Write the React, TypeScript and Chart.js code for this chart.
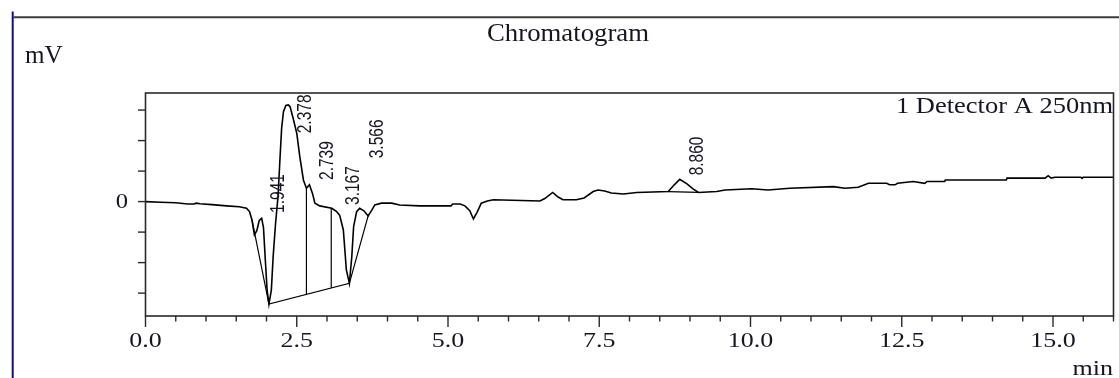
import React, { useEffect, useRef } from "react";
import { Chart, registerables } from "chart.js";

Chart.register(...registerables);

// ---- Data ----
const times = [
  0.0, 0.25, 0.5, 0.7, 0.8, 0.84, 0.9, 1.1, 1.34, 1.55, 1.67, 1.72, 1.76, 1.8, 1.84, 1.88, 1.92, 1.95,
  1.98, 2.01, 2.04, 2.08, 2.11, 2.15, 2.19, 2.22, 2.25, 2.28, 2.32, 2.36, 2.39, 2.44, 2.5, 2.55, 2.61,
  2.66, 2.71, 2.76, 2.8, 2.88, 3.08, 3.16, 3.21, 3.27, 3.32, 3.37, 3.41, 3.44, 3.49, 3.54, 3.61, 3.68,
  3.74, 3.79, 3.9, 4.07, 4.2, 4.53, 5.05, 5.08, 5.2, 5.28, 5.36, 5.42, 5.48, 5.55, 5.65, 5.75, 6.52,
  6.6, 6.73, 6.82, 6.9, 7.12, 7.25, 7.4, 7.48, 7.59, 7.7, 7.9, 8.12, 8.64, 8.74, 8.83, 8.95, 9.05,
  9.14, 9.44, 9.58, 10.02, 10.29, 10.65, 11.37, 11.56, 11.78, 11.95, 12.25, 12.3, 12.39, 12.43, 12.69,
  12.88, 12.92, 13.21, 13.22, 14.23, 14.24, 14.87, 14.92, 14.97, 15.03, 15.46, 15.48, 15.5, 16.0,
];
const signal = [
  0.0, -0.02, -0.04, -0.08, -0.08, -0.05, -0.07, -0.1, -0.14, -0.17, -0.22, -0.33, -0.6, -1.09, -0.95,
  -0.62, -0.55, -0.85, -1.9, -2.9, -3.36, -2.9, -1.8, -0.71, 0.16, 1.3, 2.4, 2.95, 3.15, 3.17, 3.11,
  2.73, 2.24, 1.48, 0.71, 0.44, 0.55, 0.27, -0.05, -0.14, -0.22, -0.33, -0.45, -0.93, -2.24, -2.68,
  -1.8, -0.82, -0.33, -0.22, -0.3, -0.47, -0.28, -0.11, -0.05, -0.05, -0.11, -0.14, -0.14, -0.08,
  -0.08, -0.14, -0.3, -0.57, -0.35, -0.05, 0.02, 0.06, 0.02, 0.1, 0.3, 0.15, 0.06, 0.06, 0.12, 0.33,
  0.38, 0.35, 0.28, 0.25, 0.3, 0.33, 0.55, 0.73, 0.58, 0.42, 0.3, 0.33, 0.38, 0.42, 0.38, 0.44, 0.49,
  0.44, 0.47, 0.6, 0.6, 0.55, 0.55, 0.6, 0.66, 0.6, 0.66, 0.66, 0.71, 0.71, 0.77, 0.77, 0.85, 0.77,
  0.8, 0.8, 0.76, 0.8, 0.8,
];

// integration baselines and drop lines (null = gap)
const baselineTimes = [1.76, 2.04, 3.37, 3.68, 3.68, 2.66, 2.66, 2.66, 3.07, 3.07, 3.07, 8.64, 9.14];
const baselineValues = [-0.6, -3.36, -2.68, -0.47, null, 0.44, -3.04, null, -0.22, -2.83, null, 0.33, 0.3];

const peakTimes = [1.941, 2.378, 2.739, 3.167, 3.566, 8.86];
const peakLabels = ["1.941", "2.378", "2.739", "3.167", "3.566", "8.860"];
const peakLabelLevels = [-0.37, 2.24, 0.71, -0.11, 1.42, 0.86];

const xMajorTicks = [0, 2.5, 5, 7.5, 10, 12.5, 15];
const xTickLabels = ["0.0", "2.5", "5.0", "7.5", "10.0", "12.5", "15.0"];
const xMinorStep = 0.5;
const yTicks = [-3, -2, -1, 0, 1, 2, 3];
const yLabelValues = [0];
const yLabelTexts = ["0"];

const titleText = "Chromatogram";
const yUnitText = "mV";
const xUnitText = "min";
const detectorText = "1 Detector A 250nm";

const SERIF = "'Liberation Serif', 'Times New Roman', serif";
const SANS = "'Liberation Sans', Arial, sans-serif";
const TEXT_COLOR = "#161622";

function drawText(
  ctx: CanvasRenderingContext2D,
  text: string,
  x: number,
  y: number,
  font: string,
  align: CanvasTextAlign,
  opts: { width?: number; sx?: number } = {}
) {
  ctx.save();
  ctx.font = font;
  ctx.textAlign = align;
  ctx.textBaseline = "alphabetic";
  ctx.fillStyle = TEXT_COLOR;
  let sx = opts.sx ?? 1;
  if (opts.width) {
    const w = ctx.measureText(text).width;
    if (w > 0) sx = opts.width / w;
  }
  ctx.translate(x, y);
  ctx.scale(sx, 1);
  ctx.fillText(text, 0, 0);
  ctx.restore();
}

const decorPlugin = {
  id: "chromDecor",
  afterDraw(chart: any) {
    const ctx: CanvasRenderingContext2D = chart.ctx;
    const xs = chart.scales.x;
    const ys = chart.scales.y;
    const a = chart.chartArea;

    ctx.save();
    // outer frame: blue left edge + top rule
    ctx.strokeStyle = "#10107a";
    ctx.lineWidth = 2;
    ctx.beginPath();
    ctx.moveTo(12.7, 11.5);
    ctx.lineTo(12.7, 378);
    ctx.stroke();
    ctx.strokeStyle = "#3c3c3c";
    ctx.lineWidth = 2;
    ctx.beginPath();
    ctx.moveTo(13.5, 17.3);
    ctx.lineTo(1119, 17.3);
    ctx.stroke();

    // plot frame
    ctx.strokeStyle = "#2a2a2a";
    ctx.lineWidth = 1.6;
    ctx.strokeRect(a.left, a.top, a.right - a.left, a.bottom - a.top);

    // x ticks (minor + major)
    ctx.lineWidth = 1.4;
    ctx.strokeStyle = "#2a2a2a";
    for (let v = 0; v <= xs.max + 1e-9; v += xMinorStep) {
      const px = xs.getPixelForValue(v);
      const major = xMajorTicks.some((m) => Math.abs(m - v) < 1e-6);
      ctx.beginPath();
      ctx.moveTo(px, a.bottom);
      ctx.lineTo(px, a.bottom + (major ? 11 : 5.5));
      ctx.stroke();
    }
    // y ticks
    yTicks.forEach((v) => {
      const py = ys.getPixelForValue(v);
      ctx.beginPath();
      ctx.moveTo(a.left - 7.5, py);
      ctx.lineTo(a.left, py);
      ctx.stroke();
    });
    ctx.restore();

    // x tick labels
    xMajorTicks.forEach((v, i) => {
      drawText(ctx, xTickLabels[i], xs.getPixelForValue(v), a.bottom + 30.7, `20px ${SERIF}`, "center", { sx: 1.3 });
    });
    // y tick labels
    yLabelValues.forEach((v, i) => {
      drawText(ctx, yLabelTexts[i], a.left - 17.5, ys.getPixelForValue(v) + 6.6, `20px ${SERIF}`, "right", { sx: 1.23 });
    });

    // titles / units
    drawText(ctx, titleText, 568, 40.5, `25px ${SERIF}`, "center", { width: 162 });
    drawText(ctx, yUnitText, 25, 63.3, `25px ${SERIF}`, "left", { width: 37.7 });
    drawText(ctx, xUnitText, a.right - 0.5, 375, `22px ${SERIF}`, "right", { width: 40.6 });
    drawText(ctx, detectorText, a.right - 0.5, 113, `22.5px ${SERIF}`, "right", { width: 217 });

    // peak retention-time labels (rotated)
    ctx.save();
    ctx.font = `15.5px ${SANS}`;
    ctx.fillStyle = TEXT_COLOR;
    ctx.textAlign = "left";
    ctx.textBaseline = "middle";
    peakTimes.forEach((t, i) => {
      const px = xs.getPixelForValue(t) + 16;
      const py = ys.getPixelForValue(peakLabelLevels[i]);
      ctx.save();
      ctx.translate(px, py);
      ctx.rotate(-Math.PI / 2);
      ctx.scale(1, 1.3);
      ctx.fillText(peakLabels[i], 0, 0);
      ctx.restore();
    });
    ctx.restore();
  },
};

export default function App() {
  const canvasRef = useRef<HTMLCanvasElement | null>(null);

  useEffect(() => {
    if (!canvasRef.current) return;
    const traceData = times.map((t, i) => ({ x: t, y: signal[i] }));
    const baseData = baselineTimes.map((t, i) => ({ x: t, y: baselineValues[i] }));

    const chart = new Chart(canvasRef.current, {
      type: "line",
      data: {
        datasets: [
          {
            label: "Detector A 250nm",
            data: traceData,
            borderColor: "#000000",
            borderWidth: 1.6,
            pointRadius: 0,
            tension: 0,
            fill: false,
          },
          {
            label: "Baselines",
            data: baseData as any,
            borderColor: "#000000",
            borderWidth: 1.2,
            pointRadius: 0,
            tension: 0,
            fill: false,
            spanGaps: false,
          },
        ],
      },
      options: {
        animation: false,
        responsive: false,
        events: [],
        layout: { padding: { top: 93, right: 5.5, left: 0, bottom: 0 } },
        plugins: {
          legend: { display: false },
          tooltip: { enabled: false },
          title: { display: false },
        },
        scales: {
          x: {
            type: "linear",
            min: 0,
            max: 16,
            ticks: { display: false },
            grid: { display: false },
            border: { display: false },
            afterFit: (s: any) => {
              s.height = 62;
            },
          },
          y: {
            type: "linear",
            min: -3.75,
            max: 3.56,
            ticks: { display: false },
            grid: { display: false },
            border: { display: false },
            afterFit: (s: any) => {
              s.width = 145.5;
            },
          },
        },
      },
      plugins: [decorPlugin],
    });
    return () => chart.destroy();
  }, []);

  return (
    <div style={{ position: "fixed", left: 0, top: 0, width: 1119, height: 378, background: "#ffffff" }}>
      <canvas ref={canvasRef} width={1119} height={378} style={{ display: "block", width: 1119, height: 378 }} />
    </div>
  );
}
